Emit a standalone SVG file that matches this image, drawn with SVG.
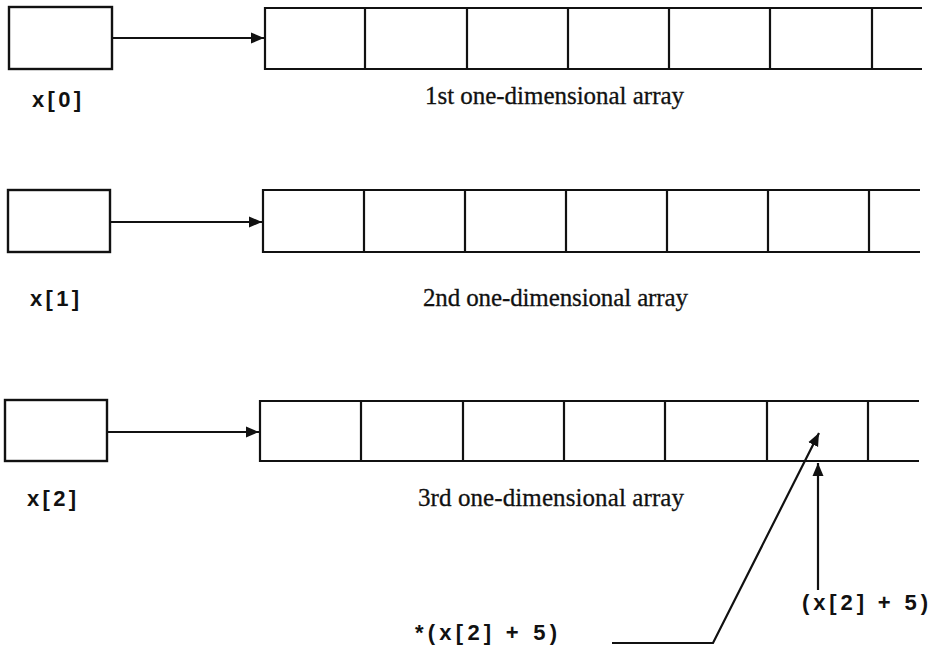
<svg xmlns="http://www.w3.org/2000/svg" width="931" height="651" viewBox="0 0 931 651">
<defs>
<marker id="ah" markerWidth="14" markerHeight="14" viewBox="0 0 14 14" refX="13" refY="7" orient="auto" markerUnits="userSpaceOnUse">
<path d="M0,1.5 L13,7 L0,12.5 Z" fill="#111"/>
</marker>
</defs>
<style>
.box{fill:#fff;stroke:#111;stroke-width:2.4}
.ln{fill:none;stroke:#111;stroke-width:2.2}
.cap{font-family:"Liberation Serif","Times New Roman",serif;font-size:25px;fill:#111;stroke:#111;stroke-width:0.3}
.mono{font-family:"Liberation Sans",Arial,sans-serif;font-weight:bold;font-size:22px;fill:#111}
</style>
<rect width="931" height="651" fill="#fff"/>

<g id="ptr0"><rect class="box" x="9" y="7" width="103" height="62"/><text class="mono" x="32" y="107" textLength="49" lengthAdjust="spacing">x[0]</text></g>
<g id="arr0">
<path class="ln" d="M922,8 H265 V69 H922 M365,8 V69 M467,8 V69 M568,8 V69 M669,8 V69 M770,8 V69 M872,8 V69"/>
<text class="cap" x="425" y="104" textLength="259" lengthAdjust="spacing">1st one-dimensional array</text>
</g>

<g id="ptr1"><rect class="box" x="8" y="190" width="102" height="62"/><text class="mono" x="30" y="306" textLength="49" lengthAdjust="spacing">x[1]</text></g>
<g id="arr1">
<path class="ln" d="M920,190 H263 V252 H920 M364,190 V252 M465,190 V252 M566,190 V252 M667,190 V252 M768,190 V252 M869,190 V252"/>
<text class="cap" x="423" y="306" textLength="265" lengthAdjust="spacing">2nd one-dimensional array</text>
</g>

<g id="ptr2"><rect class="box" x="5" y="400" width="102" height="61"/><text class="mono" x="27" y="506" textLength="49" lengthAdjust="spacing">x[2]</text></g>
<g id="arr2">
<path class="ln" d="M919,401 H260 V461 H919 M361,401 V461 M463,401 V461 M564,401 V461 M665,401 V461 M767,401 V461 M868,401 V461"/>
<text class="cap" x="418" y="506" textLength="266" lengthAdjust="spacing">3rd one-dimensional array</text>
</g>

<g id="lbl-addr"><text class="mono" x="802" y="610" textLength="126" lengthAdjust="spacing">(x[2] + 5)</text></g>
<g id="lbl-deref"><text class="mono" x="415" y="640" textLength="142" lengthAdjust="spacing">*(x[2] + 5)</text></g>

<g id="connectors">
<line class="ln" x1="112" y1="38" x2="264" y2="38" marker-end="url(#ah)"/>
<line class="ln" x1="110" y1="222" x2="262" y2="222" marker-end="url(#ah)"/>
<line class="ln" x1="107" y1="432" x2="259" y2="432" marker-end="url(#ah)"/>
<line class="ln" x1="818" y1="590" x2="818" y2="463" marker-end="url(#ah)"/>
<polyline class="ln" points="612,643 713,643 819,433" marker-end="url(#ah)"/>
</g>
</svg>
